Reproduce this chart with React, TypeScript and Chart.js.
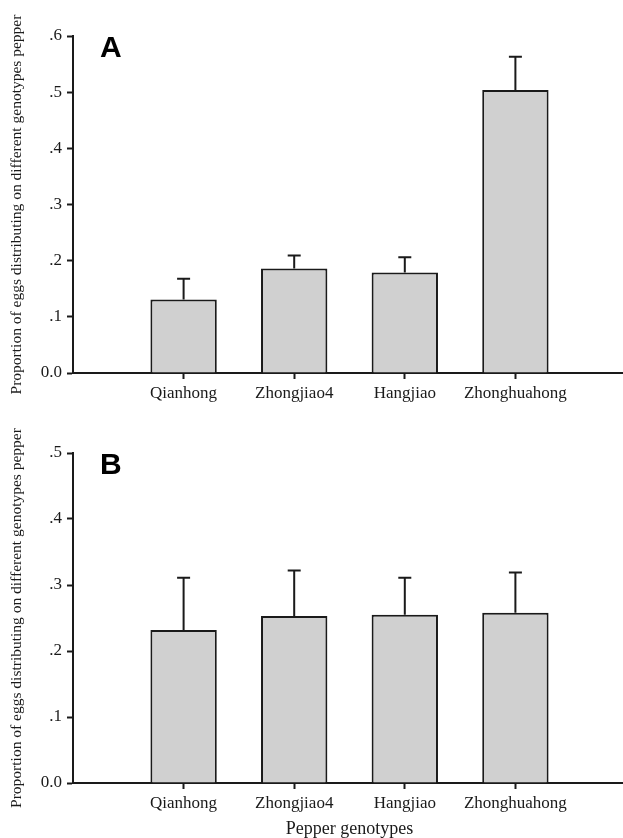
import React, { useEffect, useRef } from "react";
import { Chart, registerables } from "chart.js";

Chart.register(...registerables);

const categories = ["", "Qianhong", "Zhongjiao4", "Hangjiao", "Zhonghuahong", ""];
const meansA = [null, 0.131, 0.186, 0.179, 0.504, null];
const errorsA = [null, 0.037, 0.023, 0.027, 0.059, null];
const meansB = [null, 0.232, 0.253, 0.255, 0.258, null];
const errorsB = [null, 0.079, 0.069, 0.056, 0.061, null];
const yTitle = "Proportion of eggs distributing on different genotypes pepper";
const xTitle = "Pepper genotypes";

const INK = "#1a1a1a";
const SERIF = "'Liberation Serif', 'Times New Roman', serif";

function fmtTick(v: number) {
  if (Math.abs(v) < 1e-9) return "0.0";
  return "." + Math.round(v * 10);
}

const errorBarPlugin = {
  id: "errorBars",
  afterDatasetsDraw(chart: any, _args: any, opts: any) {
    const ctx = chart.ctx;
    const meta = chart.getDatasetMeta(0);
    const yScale = chart.scales.y;
    const vals = chart.data.datasets[0].data;
    const errs = opts.errors || [];
    ctx.save();
    ctx.strokeStyle = INK;
    ctx.lineWidth = 2;
    meta.data.forEach((el: any, i: number) => {
      const v = vals[i];
      const e = errs[i];
      if (v == null || e == null) return;
      const x = el.x;
      const y0 = yScale.getPixelForValue(v);
      const y1 = yScale.getPixelForValue(v + e);
      ctx.beginPath();
      ctx.moveTo(x, y0);
      ctx.lineTo(x, y1);
      ctx.moveTo(x - 6.5, y1);
      ctx.lineTo(x + 6.5, y1);
      ctx.stroke();
    });
    ctx.restore();
  },
};

const panelLetterPlugin = {
  id: "panelLetter",
  afterDraw(chart: any, _args: any, opts: any) {
    const ctx = chart.ctx;
    const a = chart.chartArea;
    ctx.save();
    ctx.fillStyle = "#000";
    ctx.font = "bold 30px 'Liberation Sans', Arial, sans-serif";
    ctx.textBaseline = "alphabetic";
    ctx.textAlign = "left";
    ctx.fillText(opts.letter || "", a.left + 27, a.top + opts.dy);
    ctx.restore();
  },
};

function makeConfig(
  means: (number | null)[],
  errors: (number | null)[],
  yMax: number,
  letter: string,
  letterDy: number,
  xHeight: number,
  showXTitle: boolean,
  topPad: number
): any {
  return {
    type: "bar",
    data: {
      labels: categories,
      datasets: [
        {
          data: means,
          backgroundColor: "#d0d0d0",
          borderColor: INK,
          borderWidth: 2,
          borderSkipped: "bottom",
          barPercentage: 0.6,
          categoryPercentage: 1,
        },
      ],
    },
    options: {
      responsive: false,
      animation: false,
      layout: { padding: { top: topPad, right: 0, left: 0, bottom: 0 } },
      plugins: {
        legend: { display: false },
        tooltip: { enabled: false },
        errorBars: { errors },
        panelLetter: { letter, dy: letterDy },
      },
      scales: {
        x: {
          type: "category",
          offset: false,
          grid: {
            offset: false,
            display: true,
            drawOnChartArea: false,
            drawTicks: true,
            tickLength: 6,
            tickWidth: 2,
            tickColor: (c: any) =>
              c.index === 0 || c.index === categories.length - 1 ? "rgba(0,0,0,0)" : INK,
          },
          border: { display: true, color: INK, width: 2 },
          ticks: {
            color: INK,
            font: { family: SERIF, size: 17 },
            padding: 4,
            maxRotation: 0,
            autoSkip: false,
          },
          title: {
            display: showXTitle,
            text: xTitle,
            color: INK,
            font: { family: SERIF, size: 18 },
            padding: { top: 0, bottom: -2 },
          },
          afterFit(scale: any) {
            scale.height = xHeight;
          },
        },
        y: {
          min: 0,
          max: yMax,
          grid: {
            display: true,
            drawOnChartArea: false,
            drawTicks: true,
            tickLength: 6,
            tickWidth: 2,
            tickColor: INK,
          },
          border: { display: true, color: INK, width: 2 },
          ticks: {
            stepSize: 0.1,
            color: INK,
            font: { family: SERIF, size: 17 },
            padding: 5,
            callback: (v: any) => fmtTick(Number(v)),
          },
          title: {
            display: true,
            text: yTitle,
            color: INK,
            font: { family: SERIF, size: 15.5 },
            padding: { top: 8, bottom: 0 },
          },
          afterFit(scale: any) {
            scale.width = 73;
          },
        },
      },
    },
    plugins: [errorBarPlugin, panelLetterPlugin],
  };
}

function BarPanel(props: { config: any; width: number; height: number }) {
  const ref = useRef<HTMLCanvasElement | null>(null);
  useEffect(() => {
    if (!ref.current) return;
    const chart = new Chart(ref.current, props.config);
    return () => chart.destroy();
  }, []);
  return (
    <canvas
      ref={ref}
      width={props.width}
      height={props.height}
      style={{ display: "block", width: props.width, height: props.height }}
    />
  );
}

export default function App() {
  const cfgA = makeConfig(meansA, errorsA, 0.6, "A", 21, 42, false, 36);
  const cfgB = makeConfig(meansB, errorsB, 0.5, "B", 20.5, 55, true, 38);
  return (
    <div
      style={{
        position: "absolute",
        left: 0,
        top: 0,
        width: 623,
        height: 838,
        background: "#fff",
        overflow: "hidden",
      }}
    >
      <BarPanel config={cfgA} width={630} height={415} />
      <BarPanel config={cfgB} width={630} height={423} />
    </div>
  );
}
